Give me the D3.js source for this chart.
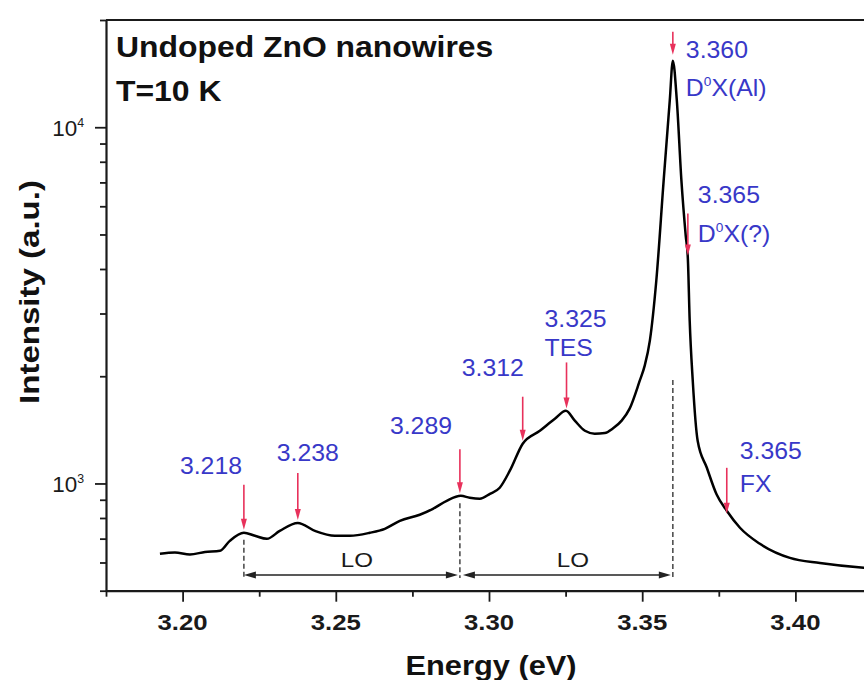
<!DOCTYPE html>
<html>
<head>
<meta charset="utf-8">
<script src="https://cdn.jsdelivr.net/npm/d3@7"></script>
<style>
  body { margin: 0; background: #fff; }
  svg { display: block; font-family: "Liberation Sans", Arial, sans-serif; }
</style>
</head>
<body>
<svg id="chart"></svg>
<script>
// spectrum: energy (eV) and PL intensity (a.u.)
const energy = [
  3.1926, 3.1975, 3.2024, 3.2073, 3.2122, 3.2154, 3.2200, 3.2236, 3.2275, 3.2317,
  3.2376, 3.2432, 3.2497, 3.2546, 3.2611, 3.2660, 3.2709, 3.2774, 3.2817, 3.2862,
  3.2908, 3.2937, 3.2970, 3.3003, 3.3035, 3.3068, 3.3110, 3.3166, 3.3215, 3.3251,
  3.3280, 3.3313, 3.3345, 3.3378, 3.3404, 3.3433, 3.3459, 3.3492, 3.3508, 3.3525,
  3.3546, 3.3570, 3.3590, 3.3600, 3.3613, 3.3628, 3.3642, 3.3649, 3.3655, 3.3665,
  3.3681, 3.3711, 3.3743, 3.3776, 3.3819, 3.3884, 3.3982, 3.4080, 3.4223, 3.4300
];
const intensity = [
  635, 640, 632, 642, 647, 690, 727, 713, 699, 736,
  775, 736, 713, 713, 727, 746, 785, 817, 849, 894,
  923, 912, 906, 935, 973, 1086, 1293, 1406, 1520, 1600,
  1501, 1406, 1380, 1385, 1426, 1501, 1622, 1943, 2138, 2517,
  3707, 7080, 11890, 15380, 11890, 7080, 4964, 4278, 2865, 1943,
  1318, 1107, 931, 838, 751, 677, 618, 598, 580, 575
];

// axis ticks
const xMajor = [3.20, 3.25, 3.30, 3.35, 3.40];
const xMinor = [3.175, 3.225, 3.275, 3.325, 3.375, 3.425];
const yMajor = [1e3, 1e4];
const yMinor = [500, 600, 700, 800, 900, 2000, 3000, 4000, 5000, 6000, 7000, 8000, 9000, 20000];

// marked peaks (arrow energy) and their labels
const peakE = [3.2200, 3.2376, 3.2905, 3.3110, 3.3253, 3.3600, 3.3649, 3.3776];
const peakText = [
  ["3.218"], ["3.238"], ["3.289"], ["3.312"], ["3.325", "TES"],
  ["3.360", "D^0X(Al)"], ["3.365", "D^0X(?)"], ["3.365", "FX"]
];
// LO phonon replica spacing
const loE = [3.2200, 3.2905, 3.3600];

// layout of the peak annotations (gap to curve, arrow length, label offset, line height)
const peakLayout = [
  { gap: 3, len: 45, dx: -64, dy: -11, lh: 0 },
  { gap: 3, len: 47, dx: -21, dy: -12, lh: 0 },
  { gap: 3, len: 44, dx: -70, dy: -15, lh: 0 },
  { gap: 3, len: 44, dx: -61, dy: -21, lh: 0 },
  { gap: 3, len: 46, dx: -22, dy: -35, lh: 29 },
  { gap: 6, len: 23, dx: 13, dy: 26, lh: 38 },
  { gap: 3, len: 42, dx: 10, dy: -11, lh: 39 },
  { gap: -3, len: 46, dx: 13, dy: -9, lh: 33 }
];

const width = 864, height = 680;
const plot = { left: 106, top: 20, bottom: 590.7, right: 872 };
const stretch = 1.12;   // text in the picture is a bit wide
const red = "#e8315b", blue = "#3838c8";

const svg = d3.select("#chart")
  .attr("width", width)
  .attr("height", height);

const xScale = d3.scaleLinear()
  .domain([3.175, 3.425])
  .range([plot.left, plot.right]);

const yScale = d3.scaleLog()
  .domain([500, 20000])
  .range([plot.bottom, plot.top]);

// text helper: anchored at (x, y), horizontally stretched, "^n" -> superscript
function addText(g, x, y, str, opt) {
  const t = g.append("text")
    .attr("transform", `translate(${x},${y}) scale(${opt.stretch || stretch},1)`)
    .attr("font-size", opt.size)
    .attr("font-weight", opt.weight || "normal")
    .attr("fill", opt.fill || "#111")
    .attr("text-anchor", opt.anchor || "start");
  const parts = str.split(/\^(\w)/);
  parts.forEach((p, i) => {
    if (!p) return;
    if (i % 2) {
      t.append("tspan").attr("dy", -opt.size * 0.42).attr("font-size", opt.size * 0.55).text(p);
    } else {
      t.append("tspan").attr("dy", i ? opt.size * 0.42 : 0).text(p);
    }
  });
  return t;
}

// intensity at energy e, interpolated in log space (for placing the annotations)
function curveY(e) {
  const i = Math.max(1, Math.min(energy.length - 1, d3.bisectLeft(energy, e)));
  const t = (e - energy[i - 1]) / (energy[i] - energy[i - 1]);
  const l = Math.log10(intensity[i - 1]) * (1 - t) + Math.log10(intensity[i]) * t;
  return yScale(Math.pow(10, l));
}

svg.append("defs").append("clipPath")
  .attr("id", "clip")
  .append("rect")
    .attr("x", plot.left)
    .attr("y", plot.top)
    .attr("width", plot.right - plot.left)
    .attr("height", plot.bottom - plot.top);

// axes
const xMinorAxis = d3.axisBottom(xScale).tickValues(xMinor).tickSize(6).tickFormat("");
const xAxis = d3.axisBottom(xScale).tickValues(xMajor).tickSize(11).tickSizeOuter(0).tickFormat("");
const yMinorAxis = d3.axisLeft(yScale).tickValues(yMinor).tickSize(6).tickFormat("");
const yAxis = d3.axisLeft(yScale).tickValues(yMajor).tickSize(11).tickSizeOuter(0).tickFormat("");

svg.append("g")
  .attr("transform", `translate(0,${plot.bottom})`)
  .call(xMinorAxis)
  .call(g => g.select(".domain").remove());

svg.append("g")
  .classed("x-axis", true)
  .attr("transform", `translate(0,${plot.bottom})`)
  .call(xAxis);

svg.append("g")
  .attr("transform", `translate(${plot.left},0)`)
  .call(yMinorAxis)
  .call(g => g.select(".domain").remove());

svg.append("g")
  .classed("y-axis", true)
  .attr("transform", `translate(${plot.left},0)`)
  .call(yAxis);

svg.selectAll(".tick line").attr("stroke", "#1a1a1a").attr("stroke-width", 1.8);
svg.selectAll(".domain").attr("stroke", "#1a1a1a").attr("stroke-width", 2.2);

// top frame line
svg.append("line")
  .attr("x1", plot.left).attr("x2", width)
  .attr("y1", plot.top).attr("y2", plot.top)
  .attr("stroke", "#1a1a1a")
  .attr("stroke-width", 2.2);

// tick labels
xMajor.forEach(d => {
  addText(svg, xScale(d), plot.bottom + 39, d3.format(".2f")(d),
    { size: 23, weight: "bold", anchor: "middle", fill: "#1a1a1a" });
});
yMajor.forEach(d => {
  addText(svg, 84, yScale(d) + 9, "10^" + Math.log10(d),
    { size: 22, anchor: "end", fill: "#1a1a1a", stretch: 1.02 });
});

// axis titles
addText(svg, 491, 675, "Energy (eV)", { size: 28, weight: "bold", anchor: "middle", stretch: 1.1 });
svg.append("g")
  .attr("transform", "translate(39,292) rotate(-90)")
  .call(g => addText(g, 0, 0, "Intensity (a.u.)", { size: 28, weight: "bold", anchor: "middle", stretch: 1.18 }));

// sample description
addText(svg, 116, 57, "Undoped ZnO nanowires", { size: 29, weight: "bold", stretch: 1.1 });
addText(svg, 116, 101, "T=10 K", { size: 29, weight: "bold", stretch: 1.1 });

// spectrum
const line = d3.line()
  .x(d => xScale(d[0]))
  .y(d => yScale(d[1]))
  .curve(d3.curveMonotoneX);

svg.append("path")
  .datum(d3.zip(energy, intensity))
  .attr("clip-path", "url(#clip)")
  .attr("fill", "none")
  .attr("stroke", "#000")
  .attr("stroke-width", 2.5)
  .attr("stroke-linejoin", "round")
  .attr("d", line);

// LO replica markers: dashed verticals and double arrows
const loY = 575;
loE.forEach(e => {
  svg.append("line")
    .attr("x1", xScale(e)).attr("x2", xScale(e))
    .attr("y1", Math.max(curveY(e) + 7, 380))
    .attr("y2", loY + 3)
    .attr("stroke", "#444")
    .attr("stroke-width", 1.5)
    .attr("stroke-dasharray", "5,3");
});

function hArrow(x1, x2, y) {
  const g = svg.append("g");
  g.append("line")
    .attr("x1", x1 + 6).attr("x2", x2 - 6)
    .attr("y1", y).attr("y2", y)
    .attr("stroke", "#222")
    .attr("stroke-width", 1.3);
  g.append("path")
    .attr("d", `M${x1},${y} l12,-3.5 l0,7 Z M${x2},${y} l-12,-3.5 l0,7 Z`)
    .attr("fill", "#222");
}

for (let i = 0; i < loE.length - 1; i++) {
  const a = xScale(loE[i]) + (i ? 3 : 0);
  const b = xScale(loE[i + 1]) - 2;
  hArrow(a, b, loY);
  addText(svg, (a + b) / 2 + 6, loY - 8, "LO", { size: 21, anchor: "middle", fill: "#1a1a1a", stretch: 1.15 });
}

// peak arrows with blue labels
peakE.forEach((e, i) => {
  const lay = peakLayout[i];
  const ax = xScale(e);
  const tip = curveY(e) - lay.gap;
  const top = tip - lay.len;
  svg.append("line")
    .attr("x1", ax).attr("x2", ax)
    .attr("y1", top).attr("y2", tip - 8)
    .attr("stroke", red)
    .attr("stroke-width", 1.6);
  svg.append("path")
    .attr("d", `M${ax},${tip} l-3,-11 l6,0 Z`)
    .attr("fill", red);
  peakText[i].forEach((s, j) => {
    addText(svg, ax + lay.dx, top + lay.dy + j * lay.lh, s, { size: 23, fill: blue, stretch: 1.08 });
  });
});
</script>
</body>
</html>
